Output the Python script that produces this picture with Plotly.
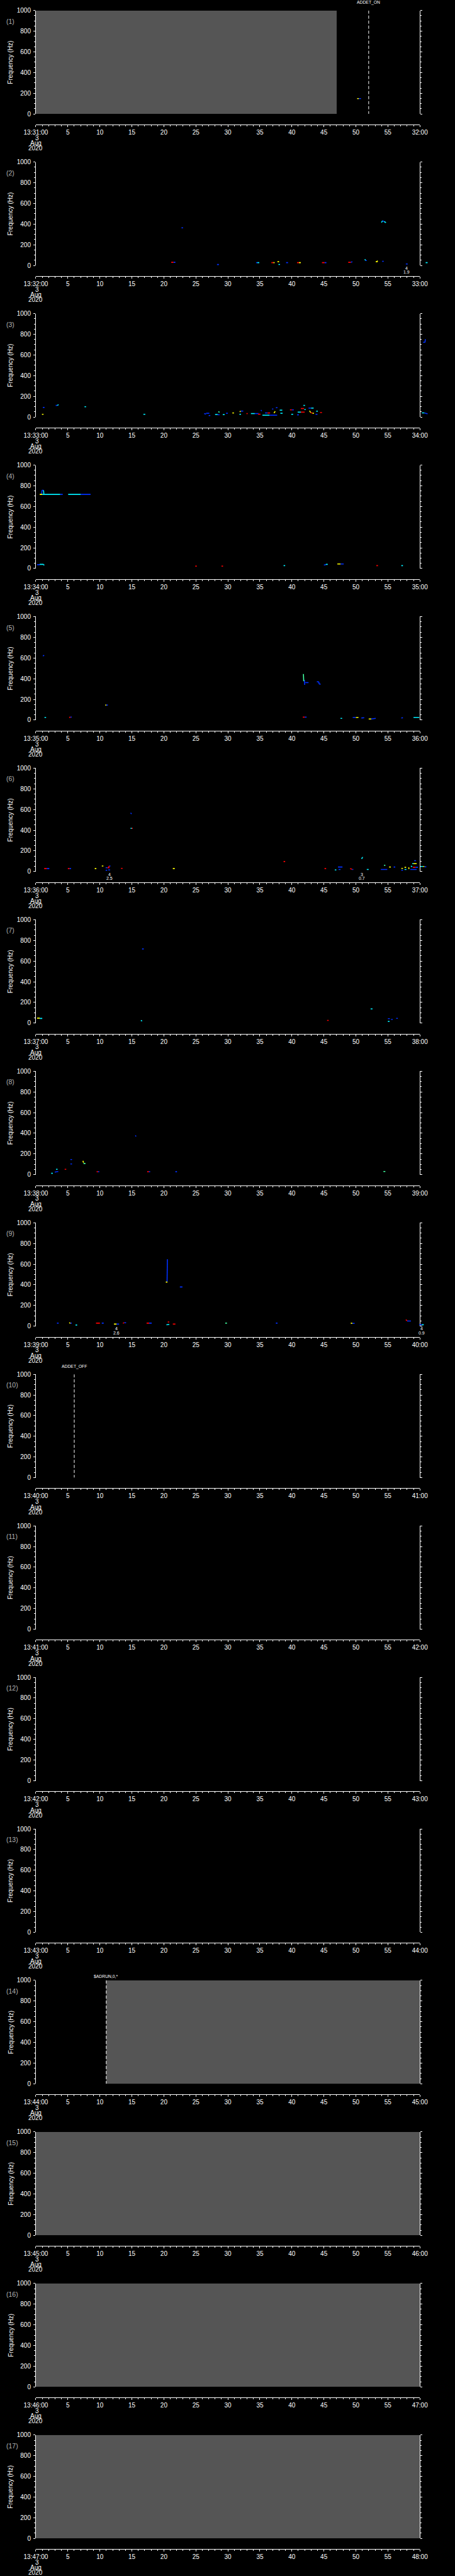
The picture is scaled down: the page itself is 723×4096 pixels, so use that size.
import plotly.graph_objects as go

# ---------------- data ----------------
N_PANELS = 17
START_MINUTE = list(range(31, 48))          # panel k covers 13:MM:00 .. 13:MM+1:00
TICK_SECONDS = [0, 5, 10, 15, 20, 25, 30, 35, 40, 45, 50, 55, 60]
MID_TICK_LABELS = ["5", "10", "15", "20", "25", "30", "35", "40", "45", "50", "55"]
FREQ_TICKS = [0, 200, 400, 600, 800, 1000]
DATE_LINES = ["3", "Aug", "2020"]
Y_LABEL = "Frequency (Hz)"

GRAY_SPANS = {1: (0, 47), 14: (11, 60), 15: (0, 60), 16: (0, 60), 17: (0, 60)}
EVENT_LINES = {1: (52, "ADDET_ON"), 10: (6, "ADDET_OFF"), 14: (11, "$ADRUN,0,*")}
EVENT_MARKS = {2: [(57.9, "4", "1.9")],
               6: [(11.5, "4", "2.5"), (50.95, "3", "0.7")],
               9: [(12.6, "4", "2.6"), (60.3, "4", "0.9")]}

BLOBS_1 = [(50.2, 50.45, 148, 148, "y"), (50.45, 50.8, 148, 148, "b")]
BLOBS_2 = [(21.15, 21.5, 30, 30, "r"), (21.5, 21.8, 30, 30, "b"), (22.75, 23.0, 364, 364, "b"),
           (28.3, 28.6, 9, 9, "b"), (34.4, 34.6, 27, 27, "b"), (34.6, 34.9, 27, 27, "c"),
           (36.8, 37.1, 27, 27, "r"), (37.1, 37.3, 27, 27, "y"), (37.75, 38.0, 36, 36, "y"),
           (37.9, 38.15, 10, 10, "c"), (39.1, 39.4, 27, 27, "b"), (40.8, 41.1, 27, 27, "r"),
           (41.1, 41.4, 27, 27, "y"), (44.7, 45.1, 27, 27, "r"), (45.1, 45.4, 27, 27, "b"),
           (48.8, 49.2, 30, 30, "r"), (49.2, 49.45, 31, 35, "b"), (51.4, 51.5, 60, 48, "c"),
           (51.5, 51.7, 48, 48, "b"), (53.1, 53.4, 36, 36, "y"), (53.3, 53.4, 36, 46, "y"),
           (54.0, 54.15, 415, 432, "c"), (54.15, 54.4, 432, 425, "b"), (54.4, 54.7, 425, 414, "c"),
           (54.1, 54.35, 40, 40, "b"), (57.8, 58.1, 14, 14, "b"), (60.9, 61.2, 27, 27, "c")]
BLOBS_3 = [(0.95, 1.2, 26, 26, "y"), (1.1, 1.35, 92, 92, "b"), (3.1, 3.35, 112, 112, "b"),
           (3.35, 3.55, 112, 120, "c"), (7.6, 7.85, 99, 99, "c"), (16.8, 17.1, 26, 26, "c"),
           (26.3, 26.6, 33, 28, "b"), (26.6, 27.1, 36, 36, "b"), (27.0, 27.25, 14, 14, "b"),
           (28.0, 28.4, 24, 24, "c"), (28.4, 28.7, 22, 22, "b"), (28.5, 28.7, 52, 46, "g"),
           (29.2, 29.5, 23, 23, "c"), (29.7, 30.0, 36, 36, "b"), (30.7, 30.95, 39, 39, "y"),
           (31.85, 32.0, 50, 57, "y"), (32.0, 32.4, 57, 57, "b"), (31.8, 32.05, 26, 26, "c"),
           (32.9, 33.1, 33, 33, "r"), (33.6, 34.2, 33, 33, "c"), (34.2, 34.8, 33, 33, "b"),
           (34.7, 35.1, 27, 27, "r"), (35.15, 35.3, 66, 58, "b"), (35.4, 36.5, 17, 17, "c"),
           (36.5, 37.7, 17, 17, "b"), (35.8, 36.2, 39, 39, "b"), (36.2, 36.6, 39, 39, "r"),
           (36.9, 37.1, 77, 77, "b"), (37.2, 37.4, 38, 55, "y"), (37.5, 37.75, 90, 90, "b"),
           (38.1, 38.5, 66, 66, "c"), (38.2, 38.55, 36, 36, "c"), (39.7, 40.0, 69, 69, "r"),
           (40.0, 40.3, 69, 69, "b"), (39.9, 40.2, 26, 26, "c"), (40.8, 41.1, 21, 21, "b"),
           (40.9, 41.4, 47, 47, "c"), (41.4, 42.0, 47, 47, "r"), (41.4, 41.9, 82, 82, "r"),
           (41.8, 42.05, 112, 112, "c"), (41.95, 42.15, 72, 72, "c"), (42.6, 43.0, 86, 86, "b"),
           (43.0, 43.4, 86, 86, "c"), (42.75, 42.95, 60, 42, "y"), (42.95, 43.2, 40, 40, "r"),
           (43.2, 43.45, 36, 36, "y"), (43.7, 44.0, 26, 26, "b"), (43.8, 44.05, 56, 56, "c"),
           (44.4, 44.7, 43, 43, "r"), (60.5, 60.8, 722, 722, "b"), (60.8, 60.85, 722, 752, "b"),
           (60.3, 60.7, 40, 40, "c"), (60.7, 61.2, 40, 30, "b")]
BLOBS_4 = [(0.6, 1.0, 717, 717, "y"), (1.0, 3.8, 717, 717, "c"), (3.8, 4.2, 717, 717, "b"),
           (0.9, 0.95, 717, 756, "b"), (0.95, 1.2, 756, 756, "b"), (1.2, 1.25, 756, 720, "c"),
           (5.05, 7.0, 717, 717, "c"), (7.0, 8.55, 717, 717, "b"), (0.2, 0.6, 37, 37, "b"),
           (0.6, 1.2, 40, 40, "c"), (1.2, 1.3, 40, 30, "c"), (24.9, 25.15, 23, 23, "r"),
           (29.0, 29.25, 23, 23, "r"), (38.7, 38.95, 28, 28, "c"), (45.0, 45.3, 33, 37, "b"),
           (45.3, 45.6, 40, 40, "c"), (47.1, 47.6, 44, 44, "y"), (47.6, 48.1, 44, 44, "b"),
           (53.2, 53.45, 28, 28, "r"), (57.1, 57.35, 28, 28, "c")]
BLOBS_5 = [(1.1, 1.3, 620, 626, "b"), (1.35, 1.6, 25, 25, "c"), (5.2, 5.4, 26, 26, "r"),
           (5.4, 5.6, 28, 28, "b"), (10.85, 11.0, 145, 145, "y"), (11.0, 11.25, 145, 145, "b"),
           (41.8, 41.85, 445, 376, "g"), (41.95, 42.0, 388, 340, "b"), (42.1, 42.6, 362, 362, "b"),
           (43.9, 44.2, 370, 370, "b"), (44.2, 44.25, 370, 348, "b"), (44.25, 44.5, 348, 348, "b"),
           (41.7, 42.0, 28, 28, "r"), (42.0, 42.3, 28, 28, "b"), (47.6, 47.85, 16, 16, "c"),
           (49.5, 50.0, 25, 25, "b"), (50.0, 50.4, 25, 25, "y"), (50.85, 51.3, 20, 22, "b"),
           (52.0, 52.4, 10, 10, "y"), (52.4, 53.1, 10, 16, "b"), (57.1, 57.35, 20, 22, "b"),
           (59.0, 59.9, 25, 25, "c")]
BLOBS_6 = [(1.3, 1.7, 29, 29, "r"), (1.7, 2.1, 29, 29, "b"), (5.0, 5.25, 29, 29, "r"),
           (5.25, 5.5, 29, 29, "b"), (9.2, 9.45, 29, 29, "y"), (10.3, 10.55, 54, 54, "y"),
           (10.9, 11.2, 37, 37, "b"), (11.2, 11.5, 37, 37, "r"), (11.35, 11.45, 37, 54, "r"),
           (11.45, 11.65, 54, 54, "b"), (10.9, 11.15, 13, 13, "b"), (11.3, 11.6, 16, 16, "b"),
           (13.3, 13.55, 31, 31, "r"), (14.8, 14.95, 568, 557, "b"), (14.8, 15.0, 418, 418, "c"),
           (15.0, 15.15, 418, 418, "r"), (21.4, 21.7, 29, 29, "y"), (38.7, 38.95, 97, 97, "r"),
           (45.1, 45.35, 29, 29, "r"), (46.7, 46.95, 16, 16, "c"), (47.2, 47.9, 44, 44, "b"),
           (47.3, 47.6, 20, 20, "b"), (49.1, 49.4, 29, 22, "r"), (49.4, 49.6, 20, 20, "b"),
           (50.9, 51.0, 122, 137, "c"), (51.0, 51.1, 137, 137, "c"), (51.7, 52.0, 20, 20, "c"),
           (53.9, 54.9, 20, 20, "b"), (54.4, 54.6, 61, 61, "g"), (55.2, 55.45, 44, 44, "y"),
           (55.9, 56.15, 44, 44, "b"), (57.1, 57.35, 31, 31, "y"), (57.1, 57.35, 13, 13, "b"),
           (57.6, 57.85, 41, 41, "y"), (57.6, 57.9, 20, 20, "c"), (58.25, 58.3, 41, 24, "y"),
           (58.5, 59.5, 20, 20, "b"), (58.6, 58.8, 55, 45, "c"), (58.8, 59.0, 77, 77, "c"),
           (59.0, 59.5, 77, 77, "y"), (59.1, 59.4, 106, 106, "b"), (58.9, 59.3, 41, 41, "r"),
           (59.3, 59.7, 41, 41, "b"), (60.1, 60.5, 49, 49, "c"), (60.5, 60.7, 49, 49, "y"),
           (60.7, 61.0, 46, 46, "b")]
BLOBS_7 = [(0.2, 0.6, 48, 48, "y"), (0.6, 1.0, 45, 45, "c"), (16.4, 16.6, 26, 20, "c"),
           (16.6, 16.85, 717, 717, "b"), (45.5, 45.75, 26, 26, "r"), (52.3, 52.6, 137, 137, "c"),
           (55.0, 55.3, 43, 43, "b"), (55.0, 55.25, 16, 16, "c"), (55.5, 55.75, 35, 35, "b"),
           (56.3, 56.55, 46, 46, "b")]
BLOBS_8 = [(2.4, 2.65, 13, 13, "c"), (2.95, 3.5, 24, 30, "b"), (3.15, 3.4, 52, 52, "c"),
           (4.5, 4.75, 52, 52, "r"), (5.4, 5.65, 146, 146, "b"), (5.4, 5.65, 103, 103, "b"),
           (7.35, 7.45, 134, 115, "y"), (7.45, 7.75, 107, 107, "g"), (9.5, 9.7, 28, 28, "r"),
           (9.7, 9.9, 28, 28, "b"), (15.55, 15.65, 380, 368, "b"), (17.4, 17.65, 28, 28, "r"),
           (17.65, 17.85, 28, 28, "b"), (21.8, 22.05, 28, 28, "b"), (54.3, 54.6, 30, 30, "g")]
BLOBS_9 = [(3.3, 3.55, 29, 29, "b"), (5.2, 5.4, 33, 29, "y"), (5.4, 5.6, 29, 29, "b"),
           (6.2, 6.45, 11, 11, "c"), (9.4, 10.0, 29, 29, "r"), (10.3, 10.6, 29, 29, "b"),
           (12.2, 12.6, 20, 20, "y"), (12.6, 13.0, 20, 20, "b"), (13.6, 13.8, 29, 33, "r"),
           (13.8, 14.1, 33, 33, "b"), (17.3, 17.7, 29, 29, "r"), (17.7, 18.1, 29, 29, "b"),
           (20.5, 20.55, 430, 647, "b"), (20.3, 20.55, 426, 426, "y"), (20.6, 20.85, 41, 41, "r"),
           (20.4, 20.85, 13, 16, "c"), (21.4, 21.8, 20, 20, "r"), (22.5, 22.9, 379, 379, "b"),
           (29.6, 29.85, 29, 29, "g"), (37.5, 37.75, 29, 29, "b"), (49.2, 49.45, 29, 27, "y"),
           (49.45, 49.8, 27, 27, "b"), (57.8, 58.0, 63, 52, "r"), (58.0, 58.6, 50, 50, "b"),
           (59.9, 60.3, 14, 14, "b"), (60.3, 60.6, 14, 14, "c")]
BLOBS = {1: BLOBS_1, 2: BLOBS_2, 3: BLOBS_3, 4: BLOBS_4, 5: BLOBS_5,
         6: BLOBS_6, 7: BLOBS_7, 8: BLOBS_8, 9: BLOBS_9}

LEVEL_COLORS = {"b": "#0030ff", "c": "#00f0ff", "g": "#40ffa0", "y": "#ffff00", "r": "#ff0000"}

# ---------------- layout geometry (reference pixels -> paper) ----------------
REF_W, REF_H = 1024.0, 5802.0
SEC = REF_H / N_PANELS
X_LEFT, X_RIGHT = 80.7, 945.0
PX_PER_S = (X_RIGHT - X_LEFT) / 60.0
EXT = 30.0                      # spectrogram columns spill slightly past the right axis
FONT = "Liberation Sans"


def xp(x):
    return x / REF_W


def yp(y):
    return 1 - y / REF_H


def ax_names(n):
    return ("xaxis" if n == 1 else f"xaxis{n}", "x" if n == 1 else f"x{n}")


fig = go.Figure()
layout = dict(template="none", width=723, height=4096,
              margin=dict(l=0, r=0, t=0, b=0, pad=0, autoexpand=False),
              paper_bgcolor="black", plot_bgcolor="rgba(0,0,0,0)", showlegend=False,
              barmode="overlay", annotations=[])
ann = layout["annotations"]

for k in range(1, N_PANELS + 1):
    i = k - 1
    top = i * SEC + 23.7
    bot = i * SEC + 256.6
    axis_y = i * SEC + 280.5
    m = START_MINUTE[i]
    vx_key, vx = ax_names(k)
    dx_key, dx = ax_names(N_PANELS + k)
    y_key = "yaxis" if k == 1 else f"yaxis{k}"
    yref = "y" if k == 1 else f"y{k}"

    ticktext = [f"13:{m:02d}:00"] + MID_TICK_LABELS + [f"{m + 1:02d}:00"]
    layout[vx_key] = dict(domain=[xp(X_LEFT), xp(X_RIGHT)], range=[0, 60], anchor="free",
                          position=yp(axis_y), tickvals=TICK_SECONDS, ticktext=ticktext,
                          ticks="outside", ticklen=3, tickwidth=1, tickcolor="white",
                          showline=True, linecolor="white", linewidth=1, showgrid=False,
                          zeroline=False, tickangle=0, ticklabelstandoff=0, automargin=False,
                          layer="above traces",
                          tickfont=dict(family=FONT, size=10, color="white"),
                          minor=dict(dtick=1, ticklen=2, ticks="outside", tickcolor="white",
                                     tickwidth=1, showgrid=False))
    layout[dx_key] = dict(domain=[xp(X_LEFT), xp(X_RIGHT + EXT)], automargin=False,
                          range=[0, 60 + EXT / PX_PER_S], anchor=yref, visible=False,
                          showgrid=False, zeroline=False)
    layout[y_key] = dict(domain=[yp(bot), yp(top)], range=[0, 1000], anchor=vx,
                         tickvals=FREQ_TICKS, ticks="outside", ticklen=3, tickwidth=1,
                         tickcolor="white", showline=True, linecolor="white", linewidth=1,
                         mirror="ticks", showgrid=False, zeroline=False, ticklabelstandoff=2,
                         layer="above traces", automargin=False,
                         tickfont=dict(family=FONT, size=10, color="white"),
                         minor=dict(dtick=50, ticklen=2, ticks="outside", tickcolor="white",
                                    tickwidth=1, showgrid=False))

    if k in GRAY_SPANS:
        t0, t1 = GRAY_SPANS[k]
        fig.add_trace(go.Bar(x=[(t0 + t1) / 2], y=[1000], width=[t1 - t0], base=0,
                             marker=dict(color="#555555", line=dict(width=0)),
                             xaxis=vx, yaxis=yref, hoverinfo="skip"))
    else:
        fig.add_trace(go.Scatter(x=[None], y=[None], xaxis=vx, yaxis=yref, hoverinfo="skip"))

    if k in EVENT_LINES:
        t, label = EVENT_LINES[k]
        fig.add_trace(go.Scatter(x=[t, t], y=[1000, 0], mode="lines", xaxis=vx, yaxis=yref,
                                 line=dict(color="white", width=1, dash="5px,3px"),
                                 hoverinfo="skip"))
        yoff = 14.6 if k == 14 else 6.0
        ann.append(dict(text=label, x=t, xref=vx, y=yp(i * SEC + yoff), yref="paper",
                        showarrow=False, xanchor="center", yanchor="middle",
                        font=dict(family=FONT, size=6.8, color="white")))

    if k in BLOBS:
        for lvl, col in LEVEL_COLORS.items():
            xs, ys = [], []
            for (t0, t1, f0, f1, c) in BLOBS[k]:
                if c == lvl:
                    xs += [t0, t1, None]
                    ys += [f0, f1, None]
            if xs:
                fig.add_trace(go.Scatter(x=xs, y=ys, mode="lines", xaxis=dx, yaxis=yref,
                                         line=dict(color=col, width=1.6), hoverinfo="skip"))

    if k in EVENT_MARKS:
        for (t, l1, l2) in EVENT_MARKS[k]:
            for txt, yoff in ((l1, 262.7), (l2, 272.0)):
                ann.append(dict(text=txt, x=t, xref=dx, y=yp(i * SEC + yoff), yref="paper",
                                showarrow=False, xanchor="center", yanchor="middle",
                                font=dict(family=FONT, size=7, color="white")))

    ann.append(dict(text=f"({k})", x=xp(11.7), xref="paper", y=yp(i * SEC + 47.8),
                    yref="paper", showarrow=False, xanchor="left", yanchor="middle",
                    font=dict(family=FONT, size=10.5, color="#b4b4b4")))
    ann.append(dict(text=Y_LABEL, x=xp(23.7), xref="paper", y=yp((top + bot) / 2),
                    yref="paper", showarrow=False, textangle=-90, xanchor="center",
                    yanchor="middle", font=dict(family=FONT, size=10, color="white")))
    for txt, yoff, xo in zip(DATE_LINES, (310.7, 322.5, 333.8), (83.5, 80.7, 80.7)):
        ann.append(dict(text=txt, x=xp(xo), xref="paper", y=yp(i * SEC + yoff),
                        yref="paper", showarrow=False, xanchor="center", yanchor="middle",
                        font=dict(family=FONT, size=10, color="white")))

fig.update_layout(**layout)
fig.write_html("out.html", config={"displayModeBar": False, "staticPlot": True},
               post_script="document.body.style.margin='0';"
                           "document.body.style.background='black';")
